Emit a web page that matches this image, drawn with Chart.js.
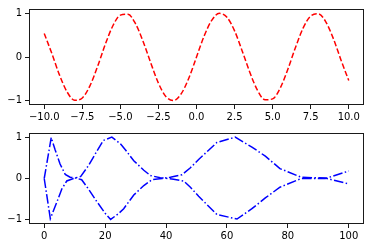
<!DOCTYPE html>
<html>
<head>
<meta charset="utf-8">
<script src="https://cdn.jsdelivr.net/npm/chart.js@4.4.1/dist/chart.umd.min.js"></script>
<style>
  body { margin: 0; background: #fff; }
  #wrap { position: relative; width: 370px; height: 248px; }
  canvas { position: absolute; left: 0; }
</style>
</head>
<body>
<div id="wrap">
  <canvas id="top" width="370" height="124" style="top:0"></canvas>
  <canvas id="bottom" width="370" height="124" style="top:124px"></canvas>
</div>
<script>
// top panel: red dashed wave
const topX = [-10, -9.5, -9, -8.5, -8, -7.5, -7, -6.5, -6, -5.5, -5, -4.5, -4, -3.5, -3, -2.5, -2, -1.5, -1, -0.5,
  0, 0.5, 1, 1.5, 2, 2.5, 3, 3.5, 4, 4.5, 5, 5.5, 6, 6.5, 7, 7.5, 8, 8.5, 9, 9.5, 10];
const topY = [0.54, 0.08, -0.41, -0.80, -0.99, -0.94, -0.66, -0.22, 0.28, 0.71, 0.96, 0.98, 0.76, 0.35, -0.14, -0.60, -0.91, -1.00, -0.84, -0.48,
  0, 0.48, 0.84, 1.00, 0.91, 0.60, 0.14, -0.35, -0.76, -0.98, -0.96, -0.71, -0.28, 0.22, 0.66, 0.94, 0.99, 0.80, 0.41, -0.08, -0.54];
const topXTicks = [-10, -7.5, -5, -2.5, 0, 2.5, 5, 7.5, 10];

// bottom panel: two blue dash-dot lines
const lineAX = [0, 2.3, 3.6, 5.2, 6.9, 8.5, 10.4, 12.3, 14.5, 17.2, 20, 21.8, 24.4, 26.1, 29.4, 32.7, 35.4, 38.7, 41.4, 45.2, 48, 50.7, 56.7, 62.7, 68.2, 72.6, 77.4, 84.4, 92.3, 100];
const lineAY = [0, 0.99, 0.69, 0.35, 0.10, 0.03, 0.01, -0.03, -0.25, -0.55, -0.84, -0.99, -0.85, -0.73, -0.40, -0.17, -0.03, 0.0, 0.03, 0.09, 0.26, 0.46, 0.87, 1.0, 0.76, 0.54, 0.24, 0.03, 0.01, -0.13];
const lineBX = [0, 2.0, 4.1, 5.8, 7.4, 9.6, 12, 14.5, 17.2, 19.4, 22.2, 25, 26.7, 29.4, 32.7, 34.9, 38.1, 42.5, 45.8, 48, 50.7, 56.7, 63.3, 68.2, 72.6, 77.4, 84.4, 92.3, 100];
const lineBY = [0, -0.97, -0.58, -0.25, -0.06, 0.0, 0.05, 0.31, 0.65, 0.92, 1.0, 0.84, 0.69, 0.43, 0.20, 0.07, 0.02, -0.02, -0.06, -0.21, -0.43, -0.87, -0.98, -0.73, -0.47, -0.21, 0.0, 0.0, 0.18];
const bottomXTicks = [0, 20, 40, 60, 80, 100];
const yTicks = [-1, 0, 1];

const font = { family: "DejaVu Sans", size: 10 };
const minus = (s) => s.replace("-", "\u2212");

// matplotlib style box around the plot area, snapped to pixels
const frame = {
  id: "frame",
  afterDraw(chart) {
    const a = chart.chartArea;
    const ctx = chart.ctx;
    const l = Math.round(a.left) + 0.5, t = Math.round(a.top) + 0.5;
    const r = Math.round(a.right) - 0.5, b = Math.round(a.bottom) - 0.5;
    ctx.save();
    ctx.strokeStyle = "#1a1a1a";
    ctx.lineWidth = 1;
    ctx.strokeRect(l, t, r - l, b - t);
    ctx.restore();
  }
};

function pts(xs, ys) {
  return xs.map((x, i) => ({ x: x, y: ys[i] }));
}

function axes(xmin, xmax, xticks, xfmt, topPad, xHeight) {
  return {
    responsive: false,
    devicePixelRatio: 1,
    animation: false,
    layout: { padding: { top: topPad, right: 6, left: 0, bottom: 0 } },
    plugins: { legend: { display: false }, tooltip: { enabled: false } },
    scales: {
      x: {
        type: "linear",
        min: xmin,
        max: xmax,
        afterBuildTicks: (s) => { s.ticks = xticks.map(v => ({ value: v })); },
        afterFit: (s) => { s.height = xHeight; },
        ticks: { color: "#000", font: font, padding: 2, maxRotation: 0, autoSkip: false,
                 callback: (v) => minus(xfmt(v)) },
        grid: { drawOnChartArea: false, drawTicks: true, tickLength: 4, tickColor: "#1a1a1a", tickWidth: 1 },
        border: { display: false }
      },
      y: {
        min: -1.1,
        max: 1.1,
        afterBuildTicks: (s) => { s.ticks = yTicks.map(v => ({ value: v })); },
        afterFit: (s) => { s.width = 29; },
        ticks: { color: "#000", font: font, padding: 3, callback: (v) => minus(String(v)) },
        grid: { drawOnChartArea: false, drawTicks: true, tickLength: 4, tickColor: "#1a1a1a", tickWidth: 1 },
        border: { display: false }
      }
    }
  };
}

new Chart(document.getElementById("top"), {
  type: "line",
  plugins: [frame],
  data: {
    datasets: [{
      data: pts(topX, topY),
      borderColor: "#ff0000",
      borderWidth: 1.5,
      borderDash: [5.5, 2.4],
      pointRadius: 0,
      cubicInterpolationMode: "monotone",
      fill: false
    }]
  },
  options: axes(-11, 11, topXTicks, (v) => v.toFixed(1), 6, 19)
});

new Chart(document.getElementById("bottom"), {
  type: "line",
  plugins: [frame],
  data: {
    datasets: [
      { data: pts(lineAX, lineAY), borderColor: "#0000ff", borderWidth: 1.5,
        borderDash: [9.6, 2.4, 1.5, 2.4], pointRadius: 0, tension: 0, fill: false },
      { data: pts(lineBX, lineBY), borderColor: "#0000ff", borderWidth: 1.5,
        borderDash: [9.6, 2.4, 1.5, 2.4], pointRadius: 0, tension: 0, fill: false }
    ]
  },
  options: axes(-5, 105, bottomXTicks, (v) => String(v), 2, 24)
});
</script>
</body>
</html>
